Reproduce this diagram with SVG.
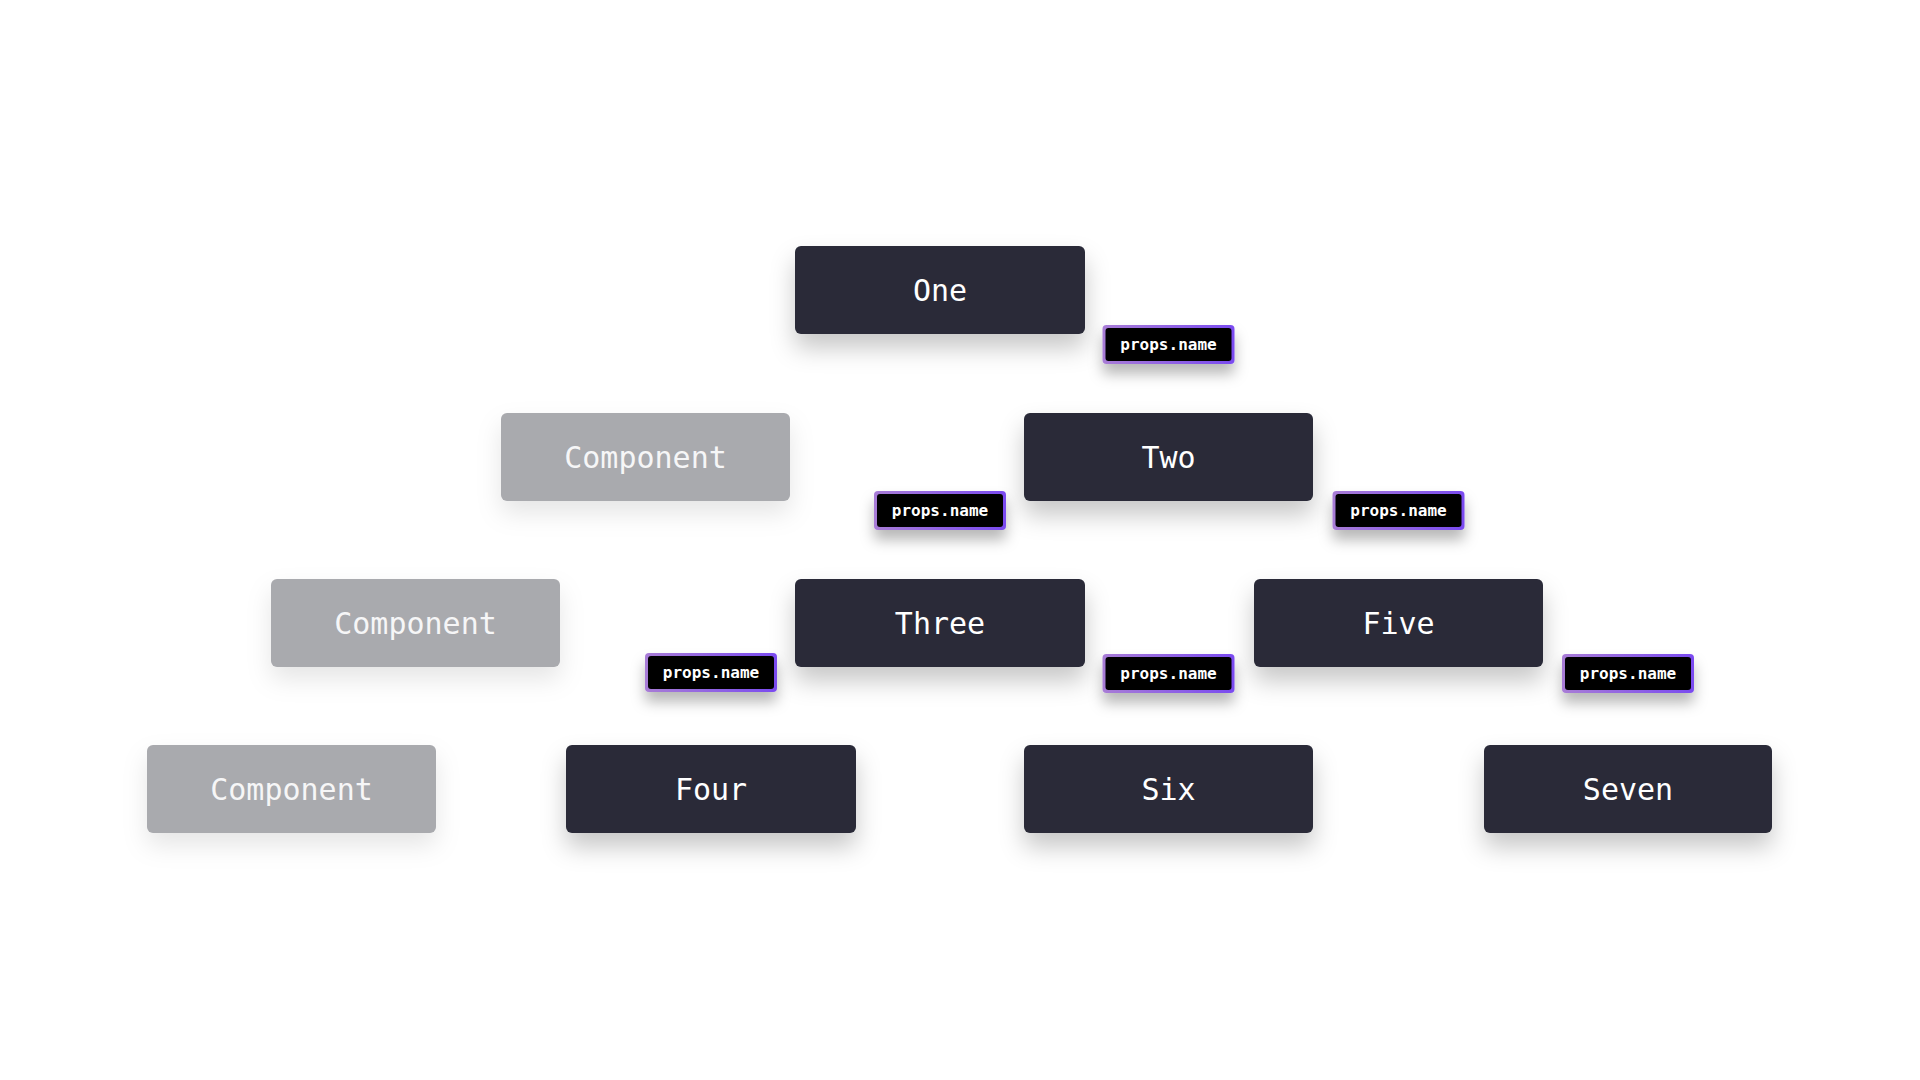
<svg xmlns="http://www.w3.org/2000/svg" width="1920" height="1080" viewBox="0 0 1920 1080">
<defs>
<filter id="sh" x="-20%" y="-30%" width="140%" height="200%">
<feDropShadow dx="0" dy="14" stdDeviation="12" flood-color="#000" flood-opacity="0.22"/>
</filter>
<filter id="shl" x="-20%" y="-30%" width="140%" height="200%">
<feDropShadow dx="0" dy="12" stdDeviation="12" flood-color="#000" flood-opacity="0.10"/>
</filter>
<filter id="shb" x="-30%" y="-50%" width="160%" height="260%">
<feDropShadow dx="0" dy="10" stdDeviation="7" flood-color="#000" flood-opacity="0.28"/>
</filter>
<linearGradient id="bg" x1="0" y1="0" x2="1" y2="0">
<stop offset="0" stop-color="#a87cd6"/>
<stop offset="1" stop-color="#7a4bf0"/>
</linearGradient>
</defs>
<style>
.node rect{fill:#292b37;filter:url(#sh)}
.ghost rect{fill:#a9aaae;filter:url(#shl)}
.node text,.ghost text{font-family:"DejaVu Sans Mono","Liberation Mono",monospace;font-size:30px;fill:#ffffff;text-anchor:middle;dominant-baseline:central}
.ghost text{fill:#f6f6f7}
.conn path{fill:none;stroke:#ffffff;stroke-width:2;stroke-dasharray:4 3}
.badge .o{fill:url(#bg);filter:url(#shb)}
.badge .i{fill:#000}
.badge text{font-family:"DejaVu Sans Mono","Liberation Mono",monospace;font-size:16px;font-weight:bold;fill:#fff;text-anchor:middle;dominant-baseline:central}
</style>
<rect width="1920" height="1080" fill="#ffffff"/>

<g id="ghost-1" class="ghost"><rect x="501" y="413" width="289" height="88" rx="6"/><text x="645.5" y="457">Component</text></g>
<g id="ghost-2" class="ghost"><rect x="271" y="579" width="289" height="88" rx="6"/><text x="415.5" y="623">Component</text></g>
<g id="ghost-3" class="ghost"><rect x="147" y="745" width="289" height="88" rx="6"/><text x="291.5" y="789">Component</text></g>

<g id="connectors" class="conn">
<path d="M1085,290 H1168.5 V413"/>
<path d="M1024,457 H940 V579"/>
<path d="M1313,457 H1398.5 V579"/>
<path d="M795,623 H711 V745"/>
<path d="M1085,623 H1168.5 V745"/>
<path d="M1543,623 H1628 V745"/>
</g>

<g id="node-one" class="node"><rect x="795" y="246" width="290" height="88" rx="6"/><text x="940" y="290">One</text></g>
<g id="node-two" class="node"><rect x="1024" y="413" width="289" height="88" rx="6"/><text x="1168.5" y="457">Two</text></g>
<g id="node-three" class="node"><rect x="795" y="579" width="290" height="88" rx="6"/><text x="940" y="623">Three</text></g>
<g id="node-five" class="node"><rect x="1254" y="579" width="289" height="88" rx="6"/><text x="1398.5" y="623">Five</text></g>
<g id="node-four" class="node"><rect x="566" y="745" width="290" height="88" rx="6"/><text x="711" y="789">Four</text></g>
<g id="node-six" class="node"><rect x="1024" y="745" width="289" height="88" rx="6"/><text x="1168.5" y="789">Six</text></g>
<g id="node-seven" class="node"><rect x="1484" y="745" width="288" height="88" rx="6"/><text x="1628" y="789">Seven</text></g>

<g id="badge-one-two" class="badge"><rect class="o" x="1102.5" y="325" width="132" height="39" rx="4"/><rect class="i" x="1105.5" y="328" width="126" height="33" rx="3"/><text x="1168.5" y="344.5">props.name</text></g>
<g id="badge-two-three" class="badge"><rect class="o" x="874" y="491" width="132" height="39" rx="4"/><rect class="i" x="877" y="494" width="126" height="33" rx="3"/><text x="940" y="510.5">props.name</text></g>
<g id="badge-two-five" class="badge"><rect class="o" x="1332.5" y="491" width="132" height="39" rx="4"/><rect class="i" x="1335.5" y="494" width="126" height="33" rx="3"/><text x="1398.5" y="510.5">props.name</text></g>
<g id="badge-three-four" class="badge"><rect class="o" x="645" y="653" width="132" height="39" rx="4"/><rect class="i" x="648" y="656" width="126" height="33" rx="3"/><text x="711" y="672.5">props.name</text></g>
<g id="badge-three-six" class="badge"><rect class="o" x="1102.5" y="654" width="132" height="39" rx="4"/><rect class="i" x="1105.5" y="657" width="126" height="33" rx="3"/><text x="1168.5" y="673.5">props.name</text></g>
<g id="badge-five-seven" class="badge"><rect class="o" x="1562" y="654" width="132" height="39" rx="4"/><rect class="i" x="1565" y="657" width="126" height="33" rx="3"/><text x="1628" y="673.5">props.name</text></g>
</svg>
